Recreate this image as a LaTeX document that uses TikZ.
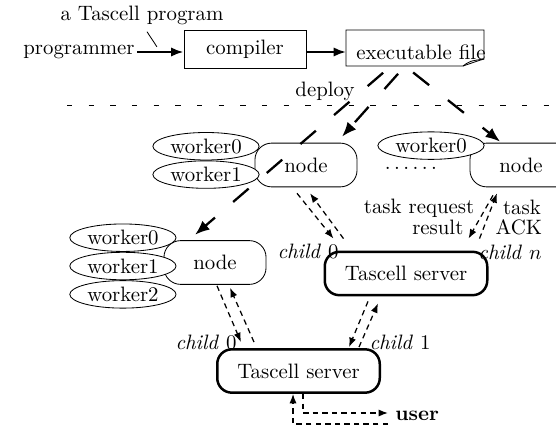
\documentclass[tikz,border=0pt]{standalone}
\usepackage{tikz}
\usetikzlibrary{positioning,arrows.meta,shapes.geometric,calc}

\begin{document}
\begin{tikzpicture}[x=0.48pt,y=-0.48pt,
  box/.style={draw,minimum width=58.6pt,minimum height=18.2pt},
  pnode/.style={draw,rounded corners=8pt,minimum width=49pt,minimum height=21pt},
  server/.style={draw,line width=1.2pt,rounded corners=7pt,minimum width=78pt,minimum height=20.8pt},
  worker/.style={ellipse,draw,fill=white,inner sep=0pt,minimum width=51pt,minimum height=13.2pt},
  flow/.style={-{Latex[length=6pt,width=4.5pt]},line width=1.1pt},
  deploy/.style={-{Latex[length=7pt,width=5.5pt]},line width=1.1pt,dash pattern=on 9.8pt off 11.5pt,shorten <=5pt},
  msg/.style={-{Latex[length=4.5pt,width=3.4pt]},semithick,dash pattern=on 2.6pt off 2pt},
  sepline/.style={dash pattern=on 2.6pt off 7.8pt},
  node distance=0pt]
  \useasboundingbox (0,0) rectangle (556,427);

  \node (tascell) at (142,15) {a Tascell program};
  \node[inner sep=1pt] (prog) at (79,52) {programmer};
  \node[box] (comp) at (245,49) {compiler};
  \node[inner xsep=4.8pt] (exe) at (421,52) {executable file};
  \begin{scope}[shift={(exe.center)}]
    \draw (-75,-22) -- (63,-22) -- (63,7) .. controls (56,9) and (48,12) .. (42,14) -- (-75,14) -- cycle;
    \draw (42,14) .. controls (49,9) .. (63,7);
    \coordinate (dA) at (-30,14);
    \coordinate (dB) at (-16,14);
  \end{scope}
  \coordinate (inpt) at ($(prog.east)!0.5!(prog.east -| comp.west)$);
  \draw[flow] (prog.east) -- (prog.east -| comp.west);
  \draw[shorten >=3pt] ([xshift=2.4pt]tascell.south) -- (inpt);
  \draw[flow] (comp.east |- exe) -- (exe.west);

  \draw[sepline] (67,105) -- (560,105);
  \node (dep) at (325,91) {deploy};

  \node[pnode] (n1) at (306,165) {node};
  \node[pnode] (n2) at (215,262.5) {node};
  \node[pnode] (n3) at (521,165) {node};
  \node[worker,anchor=east] (n1w0) at ([xshift=2.4pt,yshift=-1.7pt]n1.north west) {worker0};
  \node[worker,below=of n1w0] (n1w1) {worker1};
  \node[worker,anchor=east] (n2w0) at ([xshift=6.2pt,yshift=1.2pt]n2.north west) {worker0};
  \foreach \i [count=\j from 0] in {1,2}
    \node[worker,below=of n2w\j] (n2w\i) {worker\i};
  \node[worker,anchor=east] (n3w0) at ([xshift=7.2pt,yshift=-1.4pt]n3.north west) {worker0};
  \node[inner sep=1pt,anchor=base] (dots) at (411,170) {$\ldots\ldots$};

  \node[server] (srvR) at (406,273.5) {Tascell server};
  \node[server] (srvB) at (298.5,371) {Tascell server};
  \node[anchor=west] (usr) at (388,416) {\textbf{user}};

  \draw[deploy] (dA) -- ([xshift=-9.6pt,yshift=2.6pt]n2.north);
  \draw[deploy] (dB) -- ([xshift=17.3pt,yshift=2.9pt]n1.north);
  \draw[deploy] (dB) -- ([xshift=-10pt,yshift=0.5pt]n3.north);

  \draw[msg] ($(n1.south)+(-9,6)$) -- ($(srvR.north west)+(10,-12)$);
  \draw[msg] ($(srvR.north west)+(20,-12)$) -- ($(n1.south)+(4,6)$);
  \draw[msg] ($(n3.south)+(-28,8)$) -- node[pos=0.29,left=2pt] (treq) {task request}
    node[pos=0.73,left=2pt] (tres) {result} ($(srvR.north east)+(-20,-12)$);
  \draw[msg] ($(srvR.north east)+(-9,-12)$) -- node[pos=0.68,right=2pt] (ttask) {task}
    node[pos=0.255,right=2pt] (tack) {ACK} ($(n3.south)+(-24,6)$);
  \draw[msg] ($(n2.south)+(2,1)$) -- ($(srvB.north west)+(25,-6)$);
  \draw[msg] ($(srvB.north west)+(38,-6)$) -- ($(n2.south)+(15,3)$);
  \draw[msg] ($(srvR.south)+(-38,5)$) -- ($(srvB.north east)+(-32,-1)$);
  \draw[msg] ($(srvB.north east)+(-22,-1)$) -- ($(srvR.south)+(-28,7)$);
  \draw[msg] ($(srvB.south)+(4.5,0)$) |- ($(usr.west)+(0,-3)$);
  \draw[msg] ($(usr.west)+(0,8)$) -| ($(srvB.south)+(-5.5,0)$);

  \node (c0a) at (308,252) {\textit{child} 0};
  \node (cn) at (510,252) {\textit{child} $n$};
  \node (c0b) at (206,342) {\textit{child} 0};
  \node (c1) at (400,342) {\textit{child} 1};
\end{tikzpicture}
\end{document}
